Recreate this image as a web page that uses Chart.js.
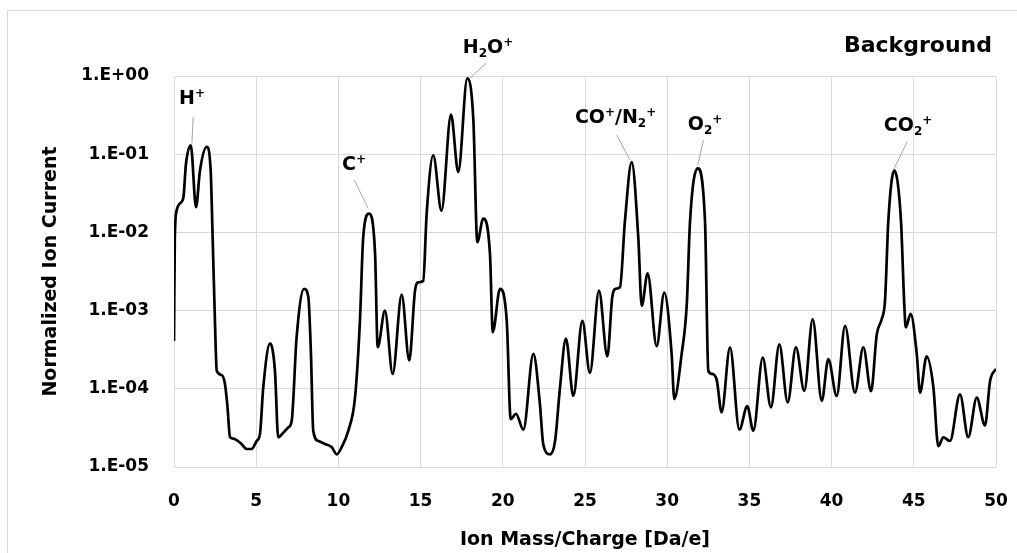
<!DOCTYPE html>
<html>
<head>
<meta charset="utf-8">
<script src="https://cdn.jsdelivr.net/npm/chart.js@4.4.0/dist/chart.umd.min.js"></script>
<style>
  html, body { margin: 0; padding: 0; background: #fff; overflow: hidden; }
  #chart { display: block; }
</style>
</head>
<body>
<canvas id="chart" width="1017" height="553"></canvas>
<script>
// spectrum: ion mass/charge [Da/e] and normalized ion current
const massCharge = [
  0.00, 0.05, 0.16, 0.36, 0.57, 0.73, 1.02, 1.34, 1.58, 1.99,
  2.23, 2.35, 2.49, 2.60, 2.90, 3.10, 3.24, 3.41, 3.61, 3.81,
  4.12, 4.42, 4.72, 5.03, 5.23, 5.43, 5.84, 6.14, 6.34, 6.65,
  6.95, 7.16, 7.46, 7.91, 8.17, 8.33, 8.47, 8.78, 9.18, 9.59,
  9.90, 10.20, 10.60, 11.01, 11.31, 11.51, 11.86, 12.23, 12.39, 12.83,
  13.30, 13.85, 14.31, 14.66, 14.86, 15.16, 15.37, 15.77, 16.27, 16.85,
  17.29, 17.84, 18.21, 18.45, 18.81, 19.22, 19.39, 19.83, 20.24, 20.48,
  20.80, 21.25, 21.86, 22.26, 22.46, 22.87, 23.18, 23.48, 23.84, 24.29,
  24.84, 25.30, 25.85, 26.36, 26.66, 26.87, 27.13, 27.43, 27.84, 28.24,
  28.45, 28.81, 29.36, 29.82, 30.27, 30.43, 30.88, 31.19, 31.39, 31.85,
  32.30, 32.50, 32.71, 33.01, 33.31, 33.82, 34.39, 34.87, 35.24, 35.81,
  36.31, 36.82, 37.33, 37.83, 38.34, 38.85, 39.40, 39.80, 40.31, 40.82,
  41.42, 41.93, 42.40, 42.75, 43.05, 43.25, 43.45, 43.81, 44.22, 44.42,
  44.51, 44.81, 45.18, 45.38, 45.78, 46.19, 46.49, 46.80, 47.20, 47.81,
  48.31, 48.83, 49.33, 49.64, 50.00
];
const ionCurrent = [
  4.1e-4, 8.6e-3, 1.9e-2, 2.35e-2, 2.8e-2, 7.6e-2, 0.13, 2.1e-2, 6.2e-2, 0.124,
  6.2e-2, 8.7e-3, 7.4e-4, 1.7e-4, 1.5e-4, 1.15e-4, 6.3e-5, 2.4e-5, 2.3e-5, 2.2e-5,
  1.95e-5, 1.7e-5, 1.7e-5, 2.15e-5, 2.65e-5, 1.05e-4, 3.8e-4, 1.7e-4, 2.4e-5, 2.75e-5,
  3.2e-5, 3.9e-5, 4.6e-4, 1.9e-3, 1.5e-3, 2.8e-4, 2.9e-5, 2.15e-5, 1.97e-5, 1.8e-5,
  1.45e-5, 1.8e-5, 2.9e-5, 7.7e-5, 7.4e-4, 8.7e-3, 1.74e-2, 5.4e-3, 3.4e-4, 1.0e-3,
  1.55e-4, 1.6e-3, 2.3e-4, 1.8e-3, 2.3e-3, 2.4e-3, 1.75e-2, 9.7e-2, 1.9e-2, 0.32,
  5.9e-2, 0.93, 0.27, 7.5e-3, 1.5e-2, 5.3e-3, 5.3e-4, 1.9e-3, 7.4e-4, 4.1e-5,
  4.8e-5, 3.0e-5, 2.8e-4, 6.3e-5, 1.95e-5, 1.45e-5, 2.15e-5, 1.04e-4, 4.4e-4, 8.1e-5,
  7.4e-4, 1.6e-4, 1.8e-3, 2.6e-4, 1.5e-3, 1.9e-3, 2.0e-3, 1.4e-2, 7.9e-2, 8.7e-3,
  1.15e-3, 3.0e-3, 3.5e-4, 1.7e-3, 2.8e-4, 7.4e-5, 2.8e-4, 1.2e-3, 1.4e-2, 6.6e-2,
  1.4e-2, 1.7e-4, 1.55e-4, 1.3e-4, 5.0e-5, 3.4e-4, 3.0e-5, 6.0e-5, 2.9e-5, 2.5e-4,
  5.8e-5, 3.7e-4, 6.7e-5, 3.4e-4, 9.4e-5, 7.8e-4, 7.0e-5, 2.4e-4, 8.1e-5, 6.4e-4,
  8.9e-5, 3.4e-4, 9.3e-5, 5.0e-4, 7.8e-4, 1.35e-3, 1.4e-2, 6.2e-2, 1.4e-2, 1.2e-3,
  6.1e-4, 9.1e-4, 2.8e-4, 8.9e-5, 2.6e-4, 1.05e-4, 1.85e-5, 2.4e-5, 2.15e-5, 8.5e-5,
  2.4e-5, 7.7e-5, 3.4e-5, 1.26e-4, 1.8e-4
];

// axis ticks
const xTicks = [0, 5, 10, 15, 20, 25, 30, 35, 40, 45, 50];
const yTicks = [1e-5, 1e-4, 1e-3, 1e-2, 1e-1, 1];
const yTickLabels = ['1.E-05', '1.E-04', '1.E-03', '1.E-02', '1.E-01', '1.E+00'];

// peak labels: _x = subscript, ^x = superscript
const peakNames = ['H^+', 'C^+', 'H_2O^+', 'CO^+/N_2^+', 'O_2^+', 'CO_2^+'];
// label anchor (text baseline centre) in data units
const peakLabelX = [1.1, 10.95, 19.1, 26.86, 32.3, 44.65];
const peakLabelY = [0.44, 0.0624, 1.97, 0.25, 0.203, 0.197];
// leader lines, from under the label to the peak
const leaderFromX = [1.17, 10.97, 19.02, 26.93, 32.2, 44.6];
const leaderFromY = [0.30, 0.0464, 1.47, 0.175, 0.151, 0.144];
const leaderToX = [1.09, 11.82, 18.0, 27.74, 31.86, 43.75];
const leaderToY = [0.138, 0.0201, 0.94, 0.0838, 0.0723, 0.0624];

const panelTitle = 'Background';

const FONT = "'DejaVu Sans', sans-serif";

// draws a label with sub/superscripts centred on x at baseline y
function drawRichText(ctx, text, x, y, size) {
  const small = Math.round(size * 0.63);
  const parts = [];
  for (let i = 0; i < text.length; i++) {
    const c = text[i];
    if ((c === '_' || c === '^') && i + 1 < text.length) {
      parts.push({ t: text[i + 1], kind: c });
      i++;
    } else {
      parts.push({ t: c, kind: '' });
    }
  }
  let total = 0;
  parts.forEach(p => {
    ctx.font = 'bold ' + (p.kind ? small : size) + 'px ' + FONT;
    p.w = ctx.measureText(p.t).width;
    total += p.w;
  });
  let cx = x - total / 2;
  ctx.textAlign = 'left';
  ctx.textBaseline = 'alphabetic';
  parts.forEach(p => {
    ctx.font = 'bold ' + (p.kind ? small : size) + 'px ' + FONT;
    let dy = 0;
    if (p.kind === '_') dy = size * 0.22;
    if (p.kind === '^') dy = -size * 0.36;
    ctx.fillText(p.t, cx, y + dy);
    cx += p.w;
  });
}

const decorPlugin = {
  id: 'decor',
  beforeDraw(chart) {
    const ctx = chart.ctx;
    ctx.save();
    ctx.fillStyle = '#ffffff';
    ctx.fillRect(0, 0, chart.width, chart.height);
    // outer frame of the chart object
    ctx.strokeStyle = '#d9d9d9';
    ctx.lineWidth = 1;
    ctx.strokeRect(7.5, 10.5, chart.width + 20, chart.height + 20);
    ctx.restore();
  },
  afterDatasetsDraw(chart) {
    const { ctx, chartArea } = chart;
    const x = chart.scales.x;
    const y = chart.scales.y;
    ctx.save();
    // leader lines
    ctx.strokeStyle = '#a6a6a6';
    ctx.lineWidth = 1;
    for (let i = 0; i < peakNames.length; i++) {
      ctx.beginPath();
      ctx.moveTo(x.getPixelForValue(leaderFromX[i]), y.getPixelForValue(leaderFromY[i]));
      ctx.lineTo(x.getPixelForValue(leaderToX[i]), y.getPixelForValue(leaderToY[i]));
      ctx.stroke();
    }
    // peak labels
    ctx.fillStyle = '#000';
    for (let i = 0; i < peakNames.length; i++) {
      drawRichText(ctx, peakNames[i],
        x.getPixelForValue(peakLabelX[i]), y.getPixelForValue(peakLabelY[i]), 19);
    }
    // panel title
    ctx.font = 'bold 22px ' + FONT;
    ctx.textAlign = 'right';
    ctx.textBaseline = 'alphabetic';
    ctx.fillText(panelTitle, chartArea.right - 4, chartArea.top - 24);
    ctx.restore();
  }
};

const points = massCharge.map((m, i) => ({ x: m, y: ionCurrent[i] }));

const chart = new Chart(document.getElementById('chart'), {
  type: 'line',
  data: {
    datasets: [{
      label: panelTitle,
      data: points,
      borderColor: '#000000',
      borderWidth: 2.7,
      pointRadius: 0,
      fill: false,
      cubicInterpolationMode: 'monotone'
    }]
  },
  options: {
    responsive: false,
    devicePixelRatio: 1,
    animation: false,
    layout: { padding: { left: 8, right: 21, top: 76, bottom: 0 } },
    plugins: {
      legend: { display: false },
      tooltip: { enabled: false }
    },
    scales: {
      x: {
        type: 'linear',
        min: 0,
        max: 50,
        afterBuildTicks: scale => { scale.ticks = xTicks.map(v => ({ value: v })); },
        afterFit: scale => {
          scale.height = 86;
          // the big tick padding would otherwise be added to the side margins
          scale.paddingLeft = 0;
          scale.paddingRight = 0;
        },
        grid: { color: '#d9d9d9', lineWidth: 1, drawTicks: false },
        border: { color: '#d9d9d9', width: 1 },
        ticks: {
          color: '#000',
          padding: 24,
          maxRotation: 0,
          font: { family: FONT, size: 17, weight: 'bold' }
        },
        title: {
          display: true,
          text: 'Ion Mass/Charge [Da/e]',
          color: '#000',
          font: { family: FONT, size: 19, weight: 'bold' },
          padding: { top: 0, bottom: 2 }
        }
      },
      y: {
        type: 'logarithmic',
        min: 1e-5,
        max: 1,
        afterBuildTicks: scale => { scale.ticks = yTicks.map(v => ({ value: v })); },
        afterFit: scale => { scale.width = 166; },
        grid: { color: '#d9d9d9', lineWidth: 1, drawTicks: false },
        border: { color: '#d9d9d9', width: 1 },
        ticks: {
          color: '#000',
          padding: 25,
          font: { family: FONT, size: 17, weight: 'bold' },
          callback: (value, index) => yTickLabels[index]
        },
        title: {
          display: true,
          text: 'Normalized Ion Current',
          color: '#000',
          font: { family: FONT, size: 19, weight: 'bold' },
          padding: { top: 32, bottom: 0 }
        }
      }
    }
  },
  plugins: [decorPlugin]
});
</script>
</body>
</html>
